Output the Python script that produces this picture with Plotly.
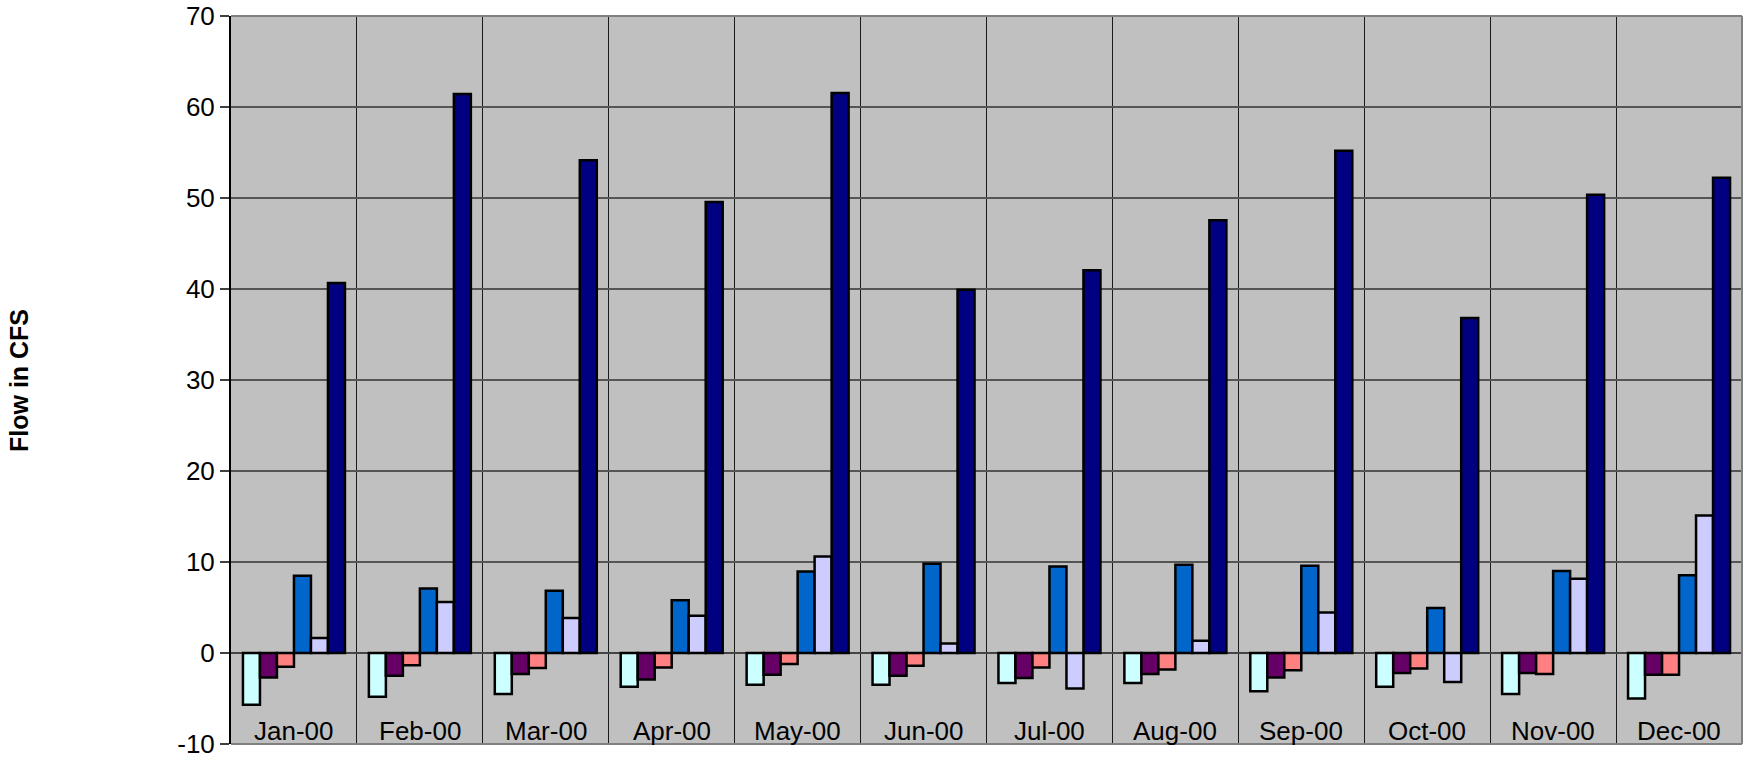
import plotly.graph_objects as go

# Monthly flow components, 2000 (cubic feet per second)
months = ["Jan-00", "Feb-00", "Mar-00", "Apr-00", "May-00", "Jun-00",
          "Jul-00", "Aug-00", "Sep-00", "Oct-00", "Nov-00", "Dec-00"]

series_1 = [-5.7, -4.8, -4.5, -3.7, -3.5, -3.5, -3.3, -3.3, -4.2, -3.7, -4.5, -5.0]
series_2 = [-2.7, -2.5, -2.3, -2.9, -2.4, -2.5, -2.75, -2.3, -2.7, -2.2, -2.2, -2.4]
series_3 = [-1.5, -1.35, -1.65, -1.6, -1.2, -1.4, -1.6, -1.8, -1.9, -1.7, -2.3, -2.4]
series_4 = [8.5, 7.1, 6.85, 5.8, 8.95, 9.8, 9.5, 9.7, 9.6, 4.95, 9.0, 8.55]
series_5 = [1.65, 5.6, 3.85, 4.1, 10.6, 1.05, -3.9, 1.35, 4.45, -3.2, 8.15, 15.1]
series_6 = [40.66, 61.43, 54.14, 49.56, 61.54, 39.93, 42.05, 47.55, 55.2, 36.81, 50.37, 52.23]

y_ticks = [-10, 0, 10, 20, 30, 40, 50, 60, 70]
y_min, y_max = -10, 70

series = [
    ("Series 1", series_1, "#CCFFFF"),
    ("Series 2", series_2, "#660066"),
    ("Series 3", series_3, "#FF8080"),
    ("Series 4", series_4, "#0066CC"),
    ("Series 5", series_5, "#CCCCFF"),
    ("Series 6", series_6, "#000080"),
]

FONT = "Liberation Sans, Arial, sans-serif"

fig = go.Figure()
for name, vals, color in series:
    fig.add_trace(go.Bar(
        name=name, x=months, y=vals,
        marker=dict(color=color, line=dict(color="black", width=2.5)),
    ))

fig.update_layout(
    width=1748, height=759,
    margin=dict(l=231, r=6, t=16, b=15),
    paper_bgcolor="white",
    plot_bgcolor="#C0C0C0",
    barmode="group",
    bargap=0.19,
    bargroupgap=0,
    showlegend=False,
    font=dict(family=FONT, size=26, color="black"),
)

fig.update_xaxes(
    type="category",
    categoryorder="array", categoryarray=months,
    tickson="boundaries",
    showgrid=True, gridcolor="#1a1a1a", gridwidth=1,
    ticks="",
    showticklabels=False,
    showline=False,
    automargin=False,
)

fig.update_yaxes(
    range=[y_min, y_max],
    tickmode="array", tickvals=y_ticks, ticktext=[str(v) for v in y_ticks],
    ticks="outside", ticklen=9, tickcolor="#404040", tickwidth=1.5,
    ticklabeloverflow="allow",
    showgrid=True, gridcolor="#555555", gridwidth=1.5,
    zeroline=True, zerolinecolor="#444444", zerolinewidth=2,
    showline=True, linecolor="black", linewidth=2,
    tickfont=dict(family=FONT, size=26, color="black"),
    automargin=False,
)

# Month labels sit inside the plotting area, along its bottom edge
for m in months:
    fig.add_annotation(
        text=m, x=m, y=y_min, xref="x", yref="y",
        xanchor="center", yanchor="bottom", yshift=-4,
        showarrow=False, font=dict(family=FONT, size=26, color="black"),
    )

# Grey frame on the top, right and bottom of the plotting area
for x0, y0, x1, y1 in [(0, 1, 1, 1), (1, 0, 1, 1), (0, 0, 1, 0)]:
    fig.add_shape(type="line", xref="x domain", yref="y domain",
                  x0=x0, y0=y0, x1=x1, y1=y1,
                  line=dict(color="#808080", width=2), layer="above")

fig.add_annotation(
    text="<b>Flow in CFS</b>", textangle=-90,
    xref="paper", yref="paper", x=-(231 - 19) / 1511, y=0.5,
    xanchor="center", yanchor="middle", showarrow=False,
    font=dict(family=FONT, size=25, color="black"),
)

fig.write_html("out.html")
